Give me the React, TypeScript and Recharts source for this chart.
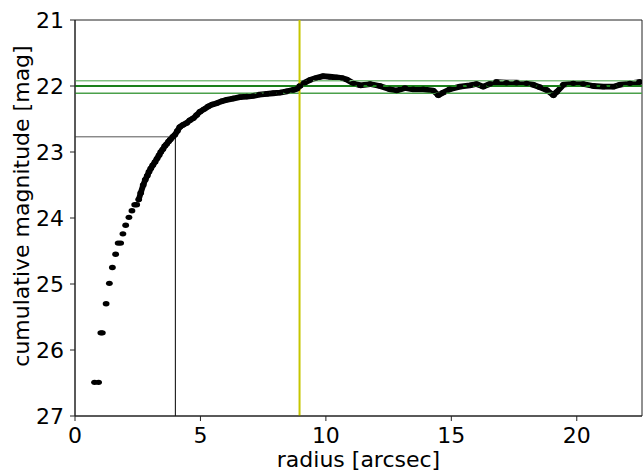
import React from 'react';
import {
  ComposedChart,
  Scatter,
  Line,
  XAxis,
  YAxis,
  ReferenceLine,
  ReferenceArea,
} from 'recharts';

// radius [arcsec] of each measured aperture
const RADIUS = [
  0.78, 0.94, 1.03, 1.09, 1.24, 1.37, 1.49, 1.62, 1.72, 1.82, 1.91, 2.02, 2.15, 2.27,
  2.38, 2.46, 2.54, 2.62, 2.72, 2.8, 2.88, 2.95, 3.02, 3.1, 3.19, 3.27, 3.35, 3.42,
  3.5, 3.58, 3.65, 3.73, 3.8, 3.9, 3.98, 4.08, 4.18, 4.3, 4.45, 4.58, 4.71, 4.85,
  4.98, 5.15, 5.31, 5.48, 5.65, 5.85, 6.04, 6.3, 6.57, 6.85, 7.1, 7.35, 7.64, 7.9,
  8.17, 8.45, 8.7, 8.85, 8.96, 9.15, 9.36, 9.6, 9.89, 10.15, 10.43, 10.65, 10.82,
  11.1, 11.37, 11.76, 12.15, 12.55, 12.82, 13.15, 13.48, 13.88, 14.28, 14.48, 14.67,
  14.94, 15.34, 15.74, 16.0, 16.27, 16.53, 16.8, 17.2, 17.6, 18.0, 18.26, 18.53,
  18.8, 19.07, 19.2, 19.47, 19.86, 20.26, 20.66, 21.06, 21.46, 21.72, 22.12, 22.5,
];

// cumulative magnitude [mag]
const MAG = [
  26.49, 26.49, 25.74, 25.74, 25.3, 24.99, 24.75, 24.55, 24.38, 24.38, 24.24, 24.11,
  23.99, 23.89, 23.8, 23.8, 23.72, 23.62, 23.5, 23.42, 23.36, 23.3, 23.25, 23.2,
  23.15, 23.1, 23.05, 23.0, 22.96, 22.91, 22.88, 22.84, 22.81, 22.77, 22.74, 22.68,
  22.62, 22.59, 22.56, 22.52, 22.49, 22.44, 22.39, 22.35, 22.31, 22.28, 22.26, 22.23,
  22.21, 22.19, 22.17, 22.16, 22.15, 22.13, 22.12, 22.11, 22.1, 22.08, 22.06, 22.04,
  22.0, 21.95, 21.91, 21.88, 21.85, 21.86, 21.87, 21.88, 21.9, 21.96, 21.99, 21.97,
  22.0, 22.05, 22.07, 22.03, 22.05, 22.05, 22.07, 22.14, 22.1, 22.05, 22.01, 21.99,
  21.97, 22.01, 21.97, 21.94, 21.95, 21.95, 21.96, 21.98, 22.02, 22.06, 22.14, 22.09,
  21.98, 21.96, 21.97, 22.0, 22.01, 22.01, 21.98, 21.96, 21.94,
];

const X_TICKS = [0, 5, 10, 15, 20];
const Y_TICKS = [21, 22, 23, 24, 25, 26, 27];

const MEAN_MAG = 22.0;
const MAG_LOW = 21.92;
const MAG_HIGH = 22.11;
const R_MAX = 8.95;
const R_REF = 4.0;
const MAG_REF = 22.77;

const points = RADIUS.map((r, i) => ({ r, m: MAG[i] }));
// the outer points overlap into a continuous band
const dense = points.filter((p) => p.r >= 2.5);

const font = 'DejaVu Sans, sans-serif';
const FS = 22;

const Dot = (props: any) => {
  const { cx, cy } = props;
  if (cx == null || cy == null) return null;
  return <ellipse cx={cx} cy={cy} rx={3.4} ry={2.7} fill="#000" />;
};

const YLabel = (props: any) => {
  const vb = props.viewBox || {};
  const x = 21;
  const y = vb.y + vb.height / 2 - 12;
  return (
    <text
      x={x}
      y={y}
      transform={`rotate(-90, ${x}, ${y})`}
      textAnchor="middle"
      dominantBaseline="central"
      fill="#000"
      fontSize={FS}
      fontFamily={font}
    >
      cumulative magnitude [mag]
    </text>
  );
};

export default function App() {
  return (
    <div style={{ position: 'absolute', left: 0, top: 0, fontFamily: font }}>
      <ComposedChart
        width={643}
        height={473}
        margin={{ top: 20, right: 1, bottom: 6, left: 0 }}
      >
        <XAxis
          type="number"
          dataKey="r"
          domain={[0, 22.6]}
          ticks={X_TICKS}
          allowDataOverflow
          height={51}
          tickSize={5}
          tickMargin={6}
          axisLine={{ stroke: '#222' }}
          tickLine={{ stroke: '#222' }}
          tick={{ fill: '#000', fontSize: FS, fontFamily: font }}
          label={{
            value: 'radius [arcsec]',
            position: 'insideBottom',
            offset: 0,
            fill: '#000',
            fontSize: FS,
            fontFamily: font,
          }}
        />
        <YAxis
          type="number"
          dataKey="m"
          domain={[21, 27]}
          ticks={Y_TICKS}
          reversed
          allowDataOverflow
          width={75}
          tickSize={5}
          tickMargin={6}
          axisLine={{ stroke: '#222' }}
          tickLine={{ stroke: '#222' }}
          tick={{ fill: '#000', fontSize: FS, fontFamily: font }}
          label={<YLabel />}
        />
        <Line
          data={dense}
          dataKey="m"
          type="linear"
          stroke="#000"
          strokeWidth={5.8}
          strokeLinecap="round"
          strokeLinejoin="round"
          dot={false}
          activeDot={false}
          isAnimationActive={false}
        />
        <Scatter data={points} dataKey="m" fill="#000" shape={<Dot />} isAnimationActive={false} />
        <ReferenceLine
          segment={[{ x: 0, y: MAG_REF }, { x: R_REF, y: MAG_REF }]}
          stroke="#555"
          strokeWidth={1}
        />
        <ReferenceLine
          segment={[{ x: R_REF, y: MAG_REF }, { x: R_REF, y: 27 }]}
          stroke="#000"
          strokeWidth={1}
        />
        <ReferenceLine y={MAG_LOW} stroke="#80c080" strokeWidth={1.6} />
        <ReferenceLine y={MAG_HIGH} stroke="#4aa04a" strokeWidth={1.3} />
        <ReferenceLine y={MEAN_MAG} stroke="#1a801a" strokeWidth={2} />
        <ReferenceLine x={R_MAX} stroke="#c6c600" strokeWidth={2} />
        <ReferenceArea x1={0} x2={22.6} y1={21} y2={27} fill="none" stroke="#222" strokeWidth={1} />
      </ComposedChart>
    </div>
  );
}
